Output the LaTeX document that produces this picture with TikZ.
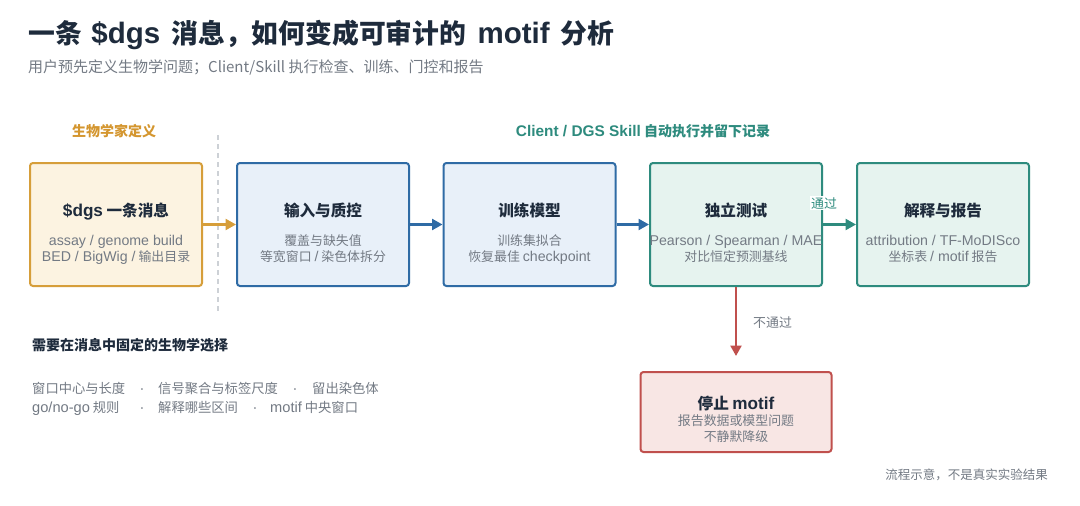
\documentclass[tikz,border=0pt]{standalone}
\usepackage{fontspec}
\setmainfont{Noto Sans CJK SC}
\newfontfamily\latfont{Liberation Sans}[Scale=1.1]
\newcommand\LT[1]{{\latfont #1}}
\usetikzlibrary{arrows.meta}
\definecolor{ink}{HTML}{1E2B3C}
\definecolor{mute}{HTML}{737A84}
\definecolor{orgline}{HTML}{D69E3A}
\definecolor{orgfill}{HTML}{FCF3E1}
\definecolor{orgtext}{HTML}{D4962F}
\definecolor{bluline}{HTML}{2F6BA5}
\definecolor{blufill}{HTML}{E8F0F9}
\definecolor{tealline}{HTML}{2E8B7E}
\definecolor{tealfill}{HTML}{E6F3EF}
\definecolor{redline}{HTML}{C0504D}
\definecolor{redfill}{HTML}{F8E6E4}
\definecolor{dashc}{HTML}{CDD1D6}
\tikzset{
  box/.style={draw, line width=2pt, rounded corners=3pt, minimum width=172pt, minimum height=123pt, inner sep=0pt},
  orgbox/.style={box, draw=orgline, fill=orgfill},
  blubox/.style={box, draw=bluline, fill=blufill},
  tealbox/.style={box, draw=tealline, fill=tealfill},
  redbox/.style={box, draw=redline, fill=redfill, minimum width=191pt, minimum height=80pt},
  btitle/.style={font=\fontsize{15.6}{18}\selectfont\bfseries, text=ink, inner sep=0pt, anchor=base},
  bsub/.style={font=\fontsize{12.9}{16}\selectfont, text=mute, inner sep=0pt, anchor=base, align=center},
  note/.style={font=\fontsize{13.3}{16}\selectfont, text=mute, inner sep=0pt, anchor=base west},
  notedot/.style={font=\fontsize{13.3}{16}\selectfont, text=mute, inner sep=0pt, anchor=base},
  conn/.style={line width=2.4pt, -{Triangle[length=10.5pt,width=11pt]}},
}
\begin{document}
\begin{tikzpicture}[x=1pt,y=-1pt]
\useasboundingbox[fill=white] (0,0) rectangle (1080,506);
% titles
\node[anchor=base west, inner sep=0pt, font=\fontsize{26.8}{30}\selectfont\bfseries, text=ink] (title) at (28,43) {一条\hspace{0.36em}\LT{\$dgs}\hspace{0.42em}消息，如何变成可审计的\hspace{0.42em}\LT{motif}\hspace{0.42em}分析};
\node[anchor=base west, inner sep=0pt, font=\fontsize{15}{18}\selectfont, text=mute] (subtitle) at (28,72) {用户预先定义生物学问题；Client/Skill 执行检查、训练、门控和报告};
% section labels
\node[anchor=base, inner sep=0pt, font=\fontsize{14}{17}\selectfont\bfseries, text=orgtext] (lblbio) at (114,136) {生物学家定义};
\node[anchor=base, inner sep=0pt, font=\fontsize{14}{17}\selectfont\bfseries, text=tealline] (lblcli) at (643,136) {\LT{Client / DGS Skill} 自动执行并留下记录};
\coordinate (dtop) at (218,135);
\coordinate (dbot) at (218,313);
\draw[dashc, line width=1.3pt, dash pattern=on 5pt off 4pt] (dtop) -- (dbot);
% boxes
\node[orgbox] (b1) at (116,224.5) {};
\node[blubox] (b2) at (323,224.5) {};
\node[blubox] (b3) at (529.5,224.5) {};
\node[tealbox] (b4) at (736,224.5) {};
\node[tealbox] (b5) at (943,224.5) {};
\node[redbox] (b6) at (736,412) {};
% connectors
\draw[conn, orgline] (b1.east) -- (b2.west);
\draw[conn, bluline] (b2.east) -- (b3.west);
\draw[conn, bluline] (b3.east) -- (b4.west);
\draw[conn, tealline] (b4.east) -- (b5.west);
\coordinate (stopin) at (736,356);
\draw[conn, redline] (b4.south) -- (stopin);
\node[fill=white, inner sep=1.5pt, anchor=base, font=\fontsize{12.9}{15}\selectfont, text=tealline] (pass) at (824,208) {通过};
\node[anchor=base west, inner sep=0pt, font=\fontsize{12.9}{15}\selectfont, text=mute] (fail) at (753,327) {不通过};
% box texts
\node[btitle] (t1) at (116,216) {\LT{\$dgs} 一条消息};
\node[bsub] (s1) at (116,245) {\LT{assay / genome build}};
\node[bsub] (s1b) at (116,261) {\LT{BED / BigWig /} 输出目录};
\node[btitle] (t2) at (323,216) {输入与质控};
\node[bsub] (s2) at (323,245) {覆盖与缺失值};
\node[bsub] (s2b) at (323,261) {等宽窗口 \LT{/} 染色体拆分};
\node[btitle] (t3) at (529.5,216) {训练模型};
\node[bsub] (s3) at (529.5,245) {训练集拟合};
\node[bsub] (s3b) at (529.5,261) {恢复最佳 \LT{checkpoint}};
\node[btitle] (t4) at (736,216) {独立测试};
\node[bsub] (s4b) at (736,261) {对比恒定预测基线};
\node[btitle] (t5) at (943,216) {解释与报告};
\node[bsub] (s5) at (943,245) {\LT{attribution / TF-MoDISco}};
\node[bsub] (s5b) at (943,261) {坐标表 \LT{/ motif} 报告};
\node[btitle] (t6) at (736,409) {停止 \LT{motif}};
\node[bsub] (s6) at (736,425) {报告数据或模型问题};
\node[bsub] (s6b) at (736,441) {不静默降级};
\begin{scope}
\clip (b4.south west) rectangle (b4.north east);
\node[bsub] (s4) at (736,245) {\LT{Pearson / Spearman / MAE}};
\end{scope}
% left notes
\node[anchor=base west, inner sep=0pt, font=\fontsize{14}{17}\selectfont\bfseries, text=ink] (nhead) at (32,350) {需要在消息中固定的生物学选择};
\node[note] (n1a) at (32,393) {窗口中心与长度};
\node[notedot] (d1a) at (142,393) {\LT{·}};
\node[note] (n1b) at (158,393) {信号聚合与标签尺度};
\node[notedot] (d1b) at (295,393) {\LT{·}};
\node[note] (n1c) at (312,393) {留出染色体};
\node[note] (n2a) at (32,412) {\LT{go/no-go} 规则};
\node[notedot] (d2a) at (142,412) {\LT{·}};
\node[note] (n2b) at (158,412) {解释哪些区间};
\node[notedot] (d2b) at (255,412) {\LT{·}};
\node[note] (n2c) at (270,412) {\LT{motif} 中央窗口};
\node[anchor=base east, inner sep=0pt, font=\fontsize{12.5}{15}\selectfont, text=mute] (foot) at (1048,479) {流程示意，不是真实实验结果};
\end{tikzpicture}
\end{document}
